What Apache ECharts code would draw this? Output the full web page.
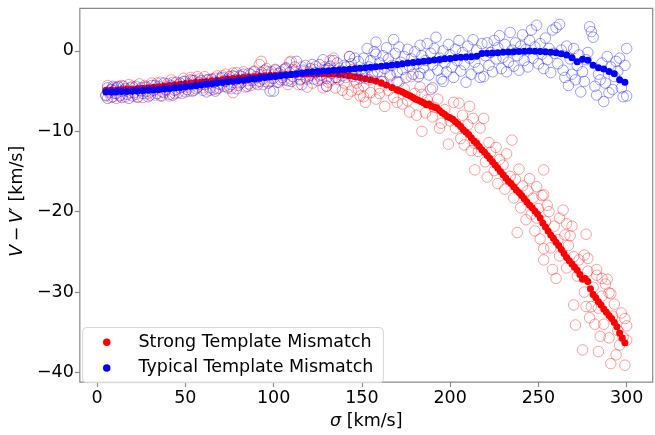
<!DOCTYPE html>
<html><head><meta charset="utf-8">
<script src="https://cdn.jsdelivr.net/npm/echarts@6/dist/echarts.min.js"></script>
<style>html,body{margin:0;padding:0;background:#fff}#c{width:655px;height:435px}</style>
</head><body><div id="c"></div>
<script>
const xTicks = [0, 50, 100, 150, 200, 250, 300];
const yTicks = [-40, -30, -20, -10, 0];
const sigmaTypical = [5,8,11,14,17,20,23,26,29,32,35,38,41,44,47,50,53,56,59,62,65,68,71,74,77,80,83,86,89,92,95,98,101,104,107,110,113,116,119,122,125,128,131,134,137,140,143,146,149,152,155,158,161,164,167,170,173,176,179,182,185,188,191,194,197,200,203,206,209,212,215,218,221,224,227,230,233,236,239,242,245,248,251,254,257,260,263,266,269,272,275,278,281,284,287,290,293,296,299];
const typicalFit = [-5.10,-5.10,-5.08,-5.06,-5.04,-5.02,-4.98,-4.94,-4.90,-4.85,-4.80,-4.74,-4.68,-4.62,-4.55,-4.48,-4.41,-4.33,-4.24,-4.16,-4.08,-4.00,-3.92,-3.85,-3.78,-3.71,-3.64,-3.56,-3.48,-3.40,-3.32,-3.25,-3.17,-3.10,-3.02,-2.94,-2.84,-2.74,-2.66,-2.60,-2.55,-2.50,-2.46,-2.42,-2.38,-2.33,-2.28,-2.22,-2.16,-2.09,-2.03,-1.96,-1.90,-1.84,-1.76,-1.68,-1.60,-1.52,-1.44,-1.38,-1.30,-1.22,-1.14,-1.07,-0.99,-0.93,-0.86,-0.80,-0.76,-0.72,-0.66,-0.32,-0.30,-0.26,-0.22,-0.18,-0.14,-0.10,-0.06,-0.04,-0.02,-0.03,-0.06,-0.10,-0.16,-0.24,-0.34,-0.50,-0.85,-1.35,-1.05,-1.15,-1.80,-2.10,-2.25,-2.55,-2.85,-3.60,-3.90];
const sigmaStrong = [5,8,11,14,17,20,23,26,29,32,35,38,41,44,47,50,53,56,59,62,65,68,71,74,77,80,83,86,89,92,95,98,101,104,107,110,113,116,119,122,125,128,131,134,137,140,143,146,149,152,155,158,161,164,167,170,171.5,173,174.5,176,177.5,179,180.5,182,183.5,185,186.5,188,189.5,191,192.5,194,195.5,197,198.5,200,201.5,203,204.5,206,207.5,209,210.5,212,213.5,215,216.5,218,219.5,221,222.5,224,225.5,227,228.5,230,231.5,233,234.5,236,237.5,239,240.5,242,243.5,245,246.5,248,249.5,251,252.5,254,255.5,257,258.5,260,261.5,263,264.5,266,267.5,269,270.5,272,273.5,275,276.5,278,279.5,281,282.5,284,285.5,287,288.5,290,291.5,293,294.5,296,297.5,299];
const strongFit = [-4.90,-4.88,-4.85,-4.82,-4.78,-4.74,-4.70,-4.65,-4.58,-4.52,-4.45,-4.38,-4.30,-4.22,-4.14,-4.06,-4.00,-3.93,-3.88,-3.82,-3.74,-3.66,-3.58,-3.50,-3.44,-3.38,-3.32,-3.26,-3.20,-3.14,-3.10,-3.06,-3.02,-2.98,-2.95,-2.92,-2.90,-2.88,-2.86,-2.85,-2.84,-2.84,-2.86,-2.88,-2.92,-2.98,-3.08,-3.20,-3.32,-3.46,-3.58,-3.75,-3.95,-4.25,-4.55,-4.85,-5.0,-5.10,-5.3,-5.45,-5.6,-5.80,-6.0,-6.15,-6.3,-6.45,-6.7,-6.60,-6.9,-7.00,-7.1,-7.40,-7.7,-7.90,-8.2,-8.30,-8.5,-8.80,-9.1,-9.40,-9.8,-10.1,-10.4,-10.8,-11.2,-11.5,-11.9,-12.3,-12.6,-13.0,-13.4,-13.8,-14.2,-14.6,-15.0,-15.4,-15.8,-16.2,-16.5,-16.9,-17.3,-17.6,-18.0,-18.4,-18.8,-19.2,-19.5,-19.9,-20.3,-20.8,-21.4,-21.9,-22.4,-22.9,-23.3,-23.8,-24.2,-24.7,-25.2,-25.7,-26.1,-26.5,-26.9,-27.3,-27.8,-28.4,-28.3,-28.7,-29.6,-30.3,-30.7,-31.2,-31.6,-32.1,-32.5,-32.9,-33.3,-33.8,-34.3,-35.1,-35.7,-36.3];
const strongObs = [[5,-5.6],[6,-4.3],[7,-5.0],[8,-5.8],[9,-4.6],[10,-5.3],[11,-5.9],[12,-4.4],[13,-5.5],[14,-4.3],[15,-4.9],[16,-5.7],[17,-5.0],[18,-4.2],[19,-5.2],[20,-4.4],[21,-4.6],[22,-5.4],[23,-5.8],[24,-4.1],[25,-5.0],[26,-5.8],[27,-4.3],[28,-4.5],[29,-5.3],[30,-5.1],[31,-4.0],[33,-5.5],[34,-4.0],[35,-4.6],[36,-3.9],[37,-5.6],[38,-5.2],[39,-4.9],[40,-4.4],[41,-5.6],[42,-3.6],[43,-3.9],[44,-5.3],[45,-4.8],[46,-4.2],[47,-4.6],[48,-5.3],[49,-3.4],[50,-3.8],[51,-4.5],[52,-5.0],[53,-3.3],[54,-3.7],[55,-4.9],[56,-4.1],[57,-3.2],[58,-3.5],[59,-4.2],[60,-4.6],[61,-3.2],[62,-3.6],[63,-4.0],[64,-4.9],[65,-3.6],[66,-4.8],[67,-3.4],[68,-3.1],[69,-4.6],[70,-4.2],[71,-3.1],[72,-3.7],[73,-2.9],[74,-3.5],[75,-4.4],[76,-4.7],[77,-2.75],[77,-5.2],[78,-3.2],[79,-2.7],[80,-3.9],[81,-4.1],[82,-3.2],[83,-2.6],[84,-4.5],[85,-3.7],[86,-2.8],[87,-4.3],[88,-3.5],[89,-2.5],[90,-4.0],[91,-3.3],[92,-1.7],[93,-1.3],[93,-3.0],[94,-4.2],[95,-3.8],[96,-2.2],[97,-2.6],[98,-3.8],[99,-3.4],[100,-2.9],[101,-2.4],[103,-3.9],[104,-2.6],[105,-3.0],[106,-3.6],[107,-2.2],[108,-4.2],[109,-1.4],[110,-1.3],[110,-3.5],[111,-2.3],[112,-2.7],[114,-4.2],[115,-3.5],[116,-2.0],[117,-2.6],[118,-3.3],[119,-4.5],[120,-2.6],[121,-3.0],[122,-4.0],[123,-2.3],[124,-1.9],[126,-3.1],[127,-3.6],[128,-4.6],[129,-2.0],[130,-4.35],[130,-2.4],[131,-3.9],[132,-1.2],[133,-3.6],[134,-0.9],[135,-4.6],[136,-3.3],[137,-2.15],[138,-2.6],[139,-4.9],[140,-4.0],[141,-3.3],[142,-5.4],[143,-0.7],[144,-5.0],[145,-2.3],[146,-3.6],[147,-4.0],[148,-4.8],[149,-5.6],[150,-3.1],[151,-5.7],[151,-4.3],[152,-6.4],[154,-3.6],[155,-5.2],[157,-2.5],[158,-6.0],[160,-4.6],[160,-5.3],[162,-3.8],[163,-6.9],[165,-4.9],[166,-2.9],[168,-5.8],[170,-6.4],[171,-3.9],[173,-6.6],[174,-4.7],[176,-6.2],[177,-7.6],[178,-3.2],[180,-5.3],[181,-8.0],[183,-4.5],[184,-5.4],[184,-10.0],[186,-7.7],[187,-6.1],[189,-4.8],[190,-8.2],[191,-7.0],[193,-6.0],[194,-9.6],[195,-9.0],[197,-7.3],[199,-11.6],[200,-8.7],[202,-6.4],[203,-9.6],[205,-6.5],[206,-10.9],[207,-8.0],[208,-11.7],[210,-9.2],[211,-6.9],[212,-12.4],[213,-8.4],[214,-11.5],[214,-14.8],[216,-12.5],[217,-9.6],[219,-8.4],[220,-13.8],[221,-15.7],[222,-11.4],[223,-12.6],[225,-14.9],[226,-12.0],[227,-16.5],[228,-13.5],[230,-14.2],[231,-17.2],[232,-12.8],[234,-15.6],[235,-11.1],[236,-18.3],[237,-16.0],[238,-22.6],[239,-14.7],[240,-19.5],[241,-16.8],[243,-21.0],[244,-17.4],[245,-15.9],[246,-20.3],[247,-18.3],[248,-22.4],[249,-16.9],[249,-20.8],[250,-19.6],[251,-23.4],[252,-18.0],[253,-14.8],[253,-17.9],[253,-24.6],[253,-26.0],[254,-21.2],[255,-19.2],[256,-20.0],[257,-24.5],[258,-27.2],[259,-21.8],[260,-28.3],[261,-23.5],[262,-20.8],[262,-25.5],[264,-19.8],[265,-22.9],[266,-27.0],[266,-21.5],[267,-24.2],[268,-23.0],[269,-21.8],[270,-25.6],[270,-31.6],[271,-34.1],[272,-28.0],[273,-26.0],[275,-37.2],[276,-30.0],[276,-25.4],[277,-22.8],[277,-31.8],[278,-27.4],[278,-25.8],[279,-33.2],[280,-31.8],[281,-29.4],[282,-34.0],[283,-27.2],[283,-27.9],[284,-37.4],[284,-32.0],[285,-35.5],[286,-30.5],[286,-28.3],[287,-34.0],[288,-29.0],[289,-28.4],[290,-35.7],[290,-30.1],[291,-30.2],[291,-38.9],[292,-33.0],[293,-31.5],[294,-37.8],[295,-34.8],[296,-36.6],[297,-32.6],[298,-35.6],[299,-33.3],[299,-39.1],[300,-34.2],[300,-36.0]];
const typicalObs = [[5,-5.5],[6,-4.6],[6,-5.9],[7,-5.2],[8,-4.8],[9,-5.7],[9,-4.4],[10,-4.9],[11,-5.3],[11,-4.6],[12,-4.5],[13,-5.6],[14,-5.0],[14,-5.8],[15,-4.4],[16,-4.7],[17,-5.4],[18,-5.9],[19,-4.6],[20,-5.6],[21,-5.2],[22,-4.4],[23,-5.7],[24,-4.9],[25,-4.6],[26,-5.3],[27,-4.5],[28,-5.0],[29,-5.7],[30,-5.5],[31,-4.3],[32,-4.9],[33,-4.3],[34,-5.3],[35,-4.4],[36,-5.6],[37,-5.1],[38,-4.0],[39,-4.8],[40,-4.1],[41,-5.4],[42,-4.3],[43,-5.5],[44,-4.9],[45,-3.9],[46,-5.2],[47,-4.0],[48,-4.5],[49,-3.8],[50,-5.1],[51,-4.8],[52,-4.1],[53,-3.6],[54,-5.0],[55,-3.7],[56,-4.7],[57,-4.5],[58,-3.9],[59,-3.7],[60,-4.9],[61,-4.2],[62,-5.1],[63,-3.6],[64,-4.6],[65,-3.5],[66,-3.9],[67,-5.0],[68,-4.7],[69,-4.1],[70,-3.4],[71,-3.3],[72,-4.4],[73,-3.8],[74,-4.6],[75,-3.2],[76,-4.2],[77,-3.1],[78,-3.6],[79,-4.7],[80,-4.3],[81,-3.1],[82,-3.9],[83,-2.9],[84,-3.4],[85,-4.4],[86,-4.1],[87,-2.9],[88,-3.7],[89,-2.6],[90,-3.2],[91,-4.2],[92,-3.8],[93,-2.7],[94,-3.5],[95,-2.4],[96,-3.0],[97,-4.0],[98,-5.0],[99,-2.6],[100,-3.4],[100,-5.0],[101,-2.3],[102,-3.9],[103,-2.8],[104,-3.6],[105,-3.3],[106,-2.3],[107,-2.1],[108,-3.7],[109,-2.7],[110,-3.8],[111,-3.2],[112,-2.0],[113,-1.3],[114,-2.9],[115,-3.6],[116,-4.2],[117,-2.4],[118,-1.8],[119,-3.5],[120,-3.1],[121,-2.2],[122,-1.7],[123,-3.5],[124,-2.7],[125,-3.7],[126,-1.7],[127,-3.0],[128,-1.1],[129,-2.4],[130,-3.4],[130,-4.4],[131,-2.2],[132,-1.9],[133,-2.8],[134,-1.2],[135,-3.3],[136,-1.5],[137,-3.6],[138,-2.5],[139,-3.1],[140,-1.8],[141,-2.0],[142,-2.8],[143,-0.7],[144,-1.6],[145,-3.2],[146,-0.9],[147,-2.4],[148,-1.3],[149,-3.4],[150,-2.8],[151,-0.9],[152,-3.4],[153,0.3],[154,-2.0],[155,-1.2],[156,-3.0],[157,-0.1],[158,1.1],[158,-0.4],[159,-2.6],[160,-1.5],[161,-3.8],[162,-0.6],[163,-2.2],[164,0.4],[165,-1.0],[166,-3.1],[167,-1.8],[168,1.4],[169,-0.3],[170,-2.7],[170,-3.8],[171,0.5],[172,-1.4],[173,-2.3],[174,-0.7],[175,-3.3],[176,0.2],[177,-1.9],[178,-1.0],[179,-2.9],[180,-0.1],[181,-1.6],[182,-3.2],[183,-2.8],[183,0.7],[184,-0.6],[185,-2.1],[186,-1.2],[187,0.9],[188,-3.0],[189,-0.3],[190,-4.6],[190,-1.7],[191,0.3],[192,1.7],[193,-2.4],[194,-0.9],[195,-3.5],[196,-3.8],[196,0.0],[197,-1.5],[198,-2.6],[199,0.8],[200,-0.5],[201,-2.0],[202,-3.3],[203,0.2],[204,-1.2],[205,1.3],[206,-2.5],[207,-0.2],[208,-1.7],[209,-3.9],[210,0.6],[211,-0.9],[212,-2.9],[213,1.4],[214,-1.4],[215,0.1],[216,-2.2],[217,-3.3],[218,0.9],[219,-3.2],[220,-0.6],[221,1.0],[222,-1.8],[223,-0.2],[224,-2.6],[225,1.3],[226,-1.0],[227,0.4],[228,1.9],[229,-2.2],[230,-0.8],[231,0.8],[232,-2.6],[233,-1.4],[234,2.3],[235,0.1],[236,-1.9],[237,1.0],[238,-0.6],[239,-2.4],[240,0.6],[241,2.0],[242,-1.2],[243,0.2],[244,-2.0],[245,1.3],[246,2.6],[247,-0.9],[248,0.5],[249,3.2],[250,-1.6],[251,0.9],[252,-0.4],[253,-2.2],[254,1.6],[255,-1.1],[256,0.3],[257,-2.7],[258,2.6],[259,-0.3],[260,2.9],[261,-1.6],[262,3.3],[263,0.1],[264,-2.4],[265,-3.3],[266,0.6],[267,-4.3],[268,-1.0],[269,-2.9],[270,0.3],[271,-3.6],[272,-1.8],[273,-0.5],[274,-5.1],[275,-2.6],[276,-3.8],[277,-1.1],[278,-0.2],[279,3.0],[280,2.4],[281,1.7],[282,-4.4],[283,-5.5],[284,-2.9],[285,-3.6],[286,-1.5],[287,-6.3],[288,-4.0],[289,-0.7],[290,-5.2],[291,-2.0],[292,-4.8],[293,-3.2],[294,-1.3],[295,-2.5],[296,-0.9],[297,-4.6],[298,-5.7],[299,-1.8],[300,0.3],[300,-5.6]];

const FONT = 'DejaVu Sans';
const FS = 17.5;
const fmt = v => (v < 0 ? '\u2212' + Math.abs(v) : String(v));
const pairs = (xs, ys) => xs.map((s, i) => [s, ys[i]]);
const openStyle = c => ({color: 'rgba(0,0,0,0)', borderColor: c, borderWidth: 1, opacity: 1});
const richName = {i: {fontFamily: FONT, fontStyle: 'italic', fontSize: FS, color: '#000'}};

const chart = echarts.init(document.getElementById('c'), null, {renderer: 'canvas'});
chart.setOption({
  animation: false,
  backgroundColor: '#fff',
  grid: {left: 73.7, top: 8.3, right: 2.3, bottom: 43.7, show: true, borderColor: '#8a8a8a', borderWidth: 1.2, backgroundColor: 'transparent'},
  xAxis: {
    type: 'value', min: -9.75, max: 314.75,
    splitLine: {show: false},
    axisLine: {show: false, onZero: false},
    axisTick: {show: true, inside: false, length: 5, lineStyle: {color: '#8a8a8a', width: 1.2}, customValues: xTicks},
    axisLabel: {customValues: xTicks, formatter: fmt, fontFamily: FONT, fontSize: FS, color: '#000', margin: 7},
    name: '{i|\u03c3} [km/s]', nameLocation: 'middle', nameGap: 23,
    nameTextStyle: {fontFamily: FONT, fontSize: FS, color: '#000', rich: richName}
  },
  yAxis: {
    type: 'value', min: -41.2, max: 5.3,
    splitLine: {show: false},
    axisLine: {show: false, onZero: false},
    axisTick: {show: true, inside: false, length: 5, lineStyle: {color: '#8a8a8a', width: 1.2}, customValues: yTicks},
    axisLabel: {customValues: yTicks, formatter: fmt, fontFamily: FONT, fontSize: FS, color: '#000', margin: 6},
    name: '{i|V}\u2009\u2212\u2009{i|V}\u2032 [km/s]', nameLocation: 'middle', nameGap: 48,
    nameTextStyle: {fontFamily: FONT, fontSize: FS, color: '#000', rich: richName, padding: [0, 12, 0, 0]}
  },
  legend: {
    left: 82.7, top: 327.5, orient: 'vertical',
    data: ['Strong Template Mismatch', 'Typical Template Mismatch'],
    icon: 'circle', itemWidth: 7.5, itemHeight: 7.5, itemGap: 7.2,
    padding: [5.5, 10, 5.5, 20.3],
    formatter: name => '{g|}' + name,
    backgroundColor: 'rgba(255,255,255,0.8)', borderColor: '#d6d6d6', borderWidth: 1, borderRadius: 4,
    textStyle: {fontFamily: FONT, fontSize: FS, color: '#000', lineHeight: 18.5, rich: {g: {width: 23}}},
    selectedMode: false
  },
  series: [
    {name: 'strongObs', type: 'scatter', data: strongObs, symbol: 'circle', symbolSize: 10.5, itemStyle: openStyle('rgba(255,0,0,0.38)'), silent: true},
    {name: 'Strong Template Mismatch', type: 'scatter', data: pairs(sigmaStrong, strongFit), symbol: 'circle', symbolSize: 7, itemStyle: {color: '#ff0000', opacity: 1}, silent: true},
    {name: 'typicalObs', type: 'scatter', data: typicalObs, symbol: 'circle', symbolSize: 10.5, itemStyle: openStyle('rgba(0,0,255,0.38)'), silent: true},
    {name: 'Typical Template Mismatch', type: 'scatter', data: pairs(sigmaTypical, typicalFit), symbol: 'circle', symbolSize: 7, itemStyle: {color: '#0000ff', opacity: 1}, silent: true}
  ]
});
</script>
</body></html>
